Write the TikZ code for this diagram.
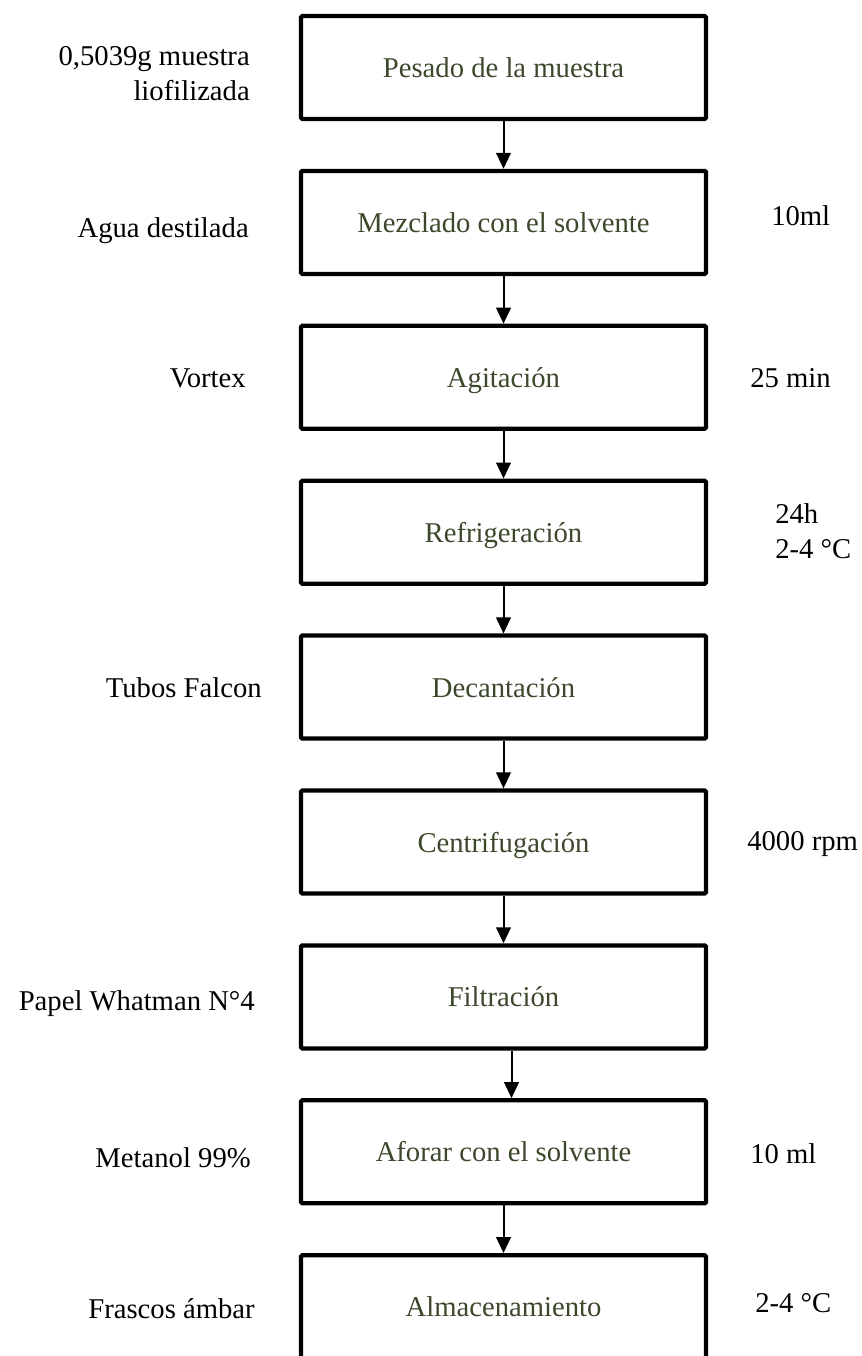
\documentclass[tikz,border=0pt]{standalone}
\usepackage{fontspec}
\setmainfont{Liberation Serif}
\usetikzlibrary{arrows.meta}
\definecolor{textoverde}{RGB}{60,72,44}
\tikzset{
  etapa/.style={draw, line width=3.2pt, rounded corners=1pt, minimum width=303.75pt, minimum height=77.25pt,
    inner sep=0pt, text=textoverde, text height=15pt, text depth=0pt,
    font=\fontsize{21.5}{26.25}\selectfont},
  nota/.style={inner sep=0pt, font=\fontsize{21.5}{26.25}\selectfont},
  flecha/.style={-{Triangle[length=12pt,width=11pt]}, line width=1.5pt}
}
\begin{document}
\begin{tikzpicture}[x=0.75pt,y=-0.75pt]
      \useasboundingbox (0,0) rectangle (862,1356);
      \draw
        (503.5,67.5) node[etapa] (1){Pesado de la muestra}
        (503.5,222.4) node[etapa] (2){Mezclado con el solvente}
        (503.5,377.3) node[etapa] (3){Agitación}
        (503.5,532.2) node[etapa] (4){Refrigeración}
        (503.5,687.1) node[etapa] (5){Decantación}
        (503.5,842.0) node[etapa] (6){Centrifugación}
        (503.5,996.9) node[etapa] (7){Filtración}
        (503.5,1151.8) node[etapa] (8){Aforar con el solvente}
        (503.5,1306.7) node[etapa] (9){Almacenamiento};
      % insumos a la izquierda
      \draw
        (250,100) node[nota, anchor=base east, align=right] (1i){0,5039g muestra\\liofilizada}
        (249,237) node[nota, anchor=base east] (2i){Agua destilada}
        (246,387) node[nota, anchor=base east] (3i){Vortex}
        (262,697) node[nota, anchor=base east] (5i){Tubos Falcon}
        (255,1010) node[nota, anchor=base east] (7i){Papel Whatman N°4}
        (251,1167) node[nota, anchor=base east] (8i){Metanol 99\%}
        (255,1318) node[nota, anchor=base east] (9i){Frascos ámbar};
      % condiciones a la derecha
      \draw
        (771,225) node[nota, anchor=base west] (2d){10ml}
        (750,387) node[nota, anchor=base west] (3d){25 min}
        (775,558) node[nota, anchor=base west, align=left] (4d){24h\\2-4 °C}
        (747,850) node[nota, anchor=base west] (6d){4000 rpm}
        (750,1163) node[nota, anchor=base west] (8d){10 ml}
        (755,1312) node[nota, anchor=base west] (9d){2-4 °C};
      \begin{scope}[flecha]
        \draw (1) to (2);
        \draw (2) to (3);
        \draw (3) to (4);
        \draw (4) to (5);
        \draw (5) to (6);
        \draw (6) to (7);
        \draw ([xshift=6pt]7.south) to ([xshift=6pt]8.north);
        \draw (8) to (9);
      \end{scope}
    \end{tikzpicture}
\end{document}
